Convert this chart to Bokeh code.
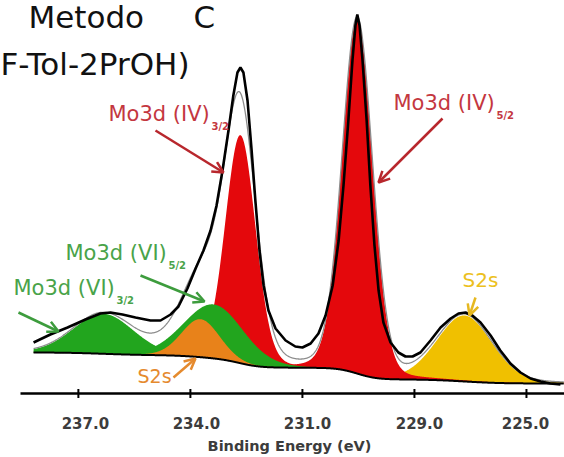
import numpy as np
from bokeh.plotting import figure
from bokeh.models import Range1d, Label, Arrow, OpenHead
from bokeh.embed import file_html
from bokeh.resources import INLINE

# ---------------- data ----------------
# measured spectrum (thick black line): binding energy (eV) and intensity (a.u.)
spec_energy = [238.20, 237.75, 237.29, 236.81, 236.41, 236.14, 235.82, 235.47, 235.07, 234.80,
               234.53, 234.32, 234.08, 233.86, 233.65, 233.46, 233.30, 233.14, 232.98, 232.85,
               232.74, 232.66, 232.58, 232.47, 232.36, 232.26, 232.15, 232.04, 231.91, 231.72,
               231.45, 231.19, 231.00, 230.78, 230.57, 230.38, 230.19, 230.03, 229.90, 229.77,
               229.66, 229.58, 229.53, 229.47, 229.39, 229.28, 229.18, 229.07, 228.96, 228.83,
               228.64, 228.43, 228.24, 228.05, 227.84, 227.57, 227.30, 227.03, 226.82, 226.63,
               226.45, 226.23, 225.96, 225.70, 225.43, 225.16, 224.89, 224.62, 224.36, 224.09]
spec_intensity = [51, 59, 66, 74, 80, 81, 79, 76, 73, 73,
                  79, 87, 105, 125, 143, 163, 188, 223, 263, 298,
                  321, 326, 321, 293, 243, 193, 143, 108, 83, 65,
                  53, 47, 46, 50, 60, 78, 108, 153, 208, 273,
                  333, 368, 379, 368, 333, 273, 208, 148, 103, 71,
                  51, 41, 37, 37, 41, 53, 66, 75, 80, 81,
                  78, 71, 58, 43, 30, 21, 15, 12, 10, 9]

# fitted components
peak_names = ["Mo3d (IV)5/2", "Mo3d (IV)3/2", "Mo3d (VI)5/2", "Mo3d (VI)3/2", "S2s (a)", "S2s (b)"]
peak_centers = [229.53, 232.66, 233.38, 236.33, 233.73, 226.66]
peak_heights = [355, 228, 54, 40, 38, 66]
peak_fwhm = [0.96, 0.96, 1.9, 1.9, 1.2, 1.75]
peak_lorentz = [0.12, 0.12, 0.1, 0.1, 0.1, 0.15]
peak_colors = ["#e4080c", "#e4080c", "#22a51e", "#22a51e", "#e8821a", "#f0c000"]
bg_high_be = 41   # background level at the high binding-energy end
bg_low_be = 10    # background level at the low binding-energy end

tick_values = [237, 234, 231, 228, 225]
tick_labels = ["237.0", "234.0", "231.0", "229.0", "225.0"]

# ---------------- model curves ----------------
E = np.linspace(238.2, 224.0, 1421)


def pvoigt(x, c, h, w, eta):
    d = (x - c) / w
    return h * (eta / (1 + 4 * d * d) + (1 - eta) * np.exp(-4 * np.log(2) * d * d))


comps = [pvoigt(E, c, h, w, eta) for c, h, w, eta in
         zip(peak_centers, peak_heights, peak_fwhm, peak_lorentz)]
total = np.sum(comps, axis=0)
# Shirley-type background
ea = E[::-1]
ta = total[::-1]
cum = np.concatenate([[0], np.cumsum(0.5 * (ta[1:] + ta[:-1]) * np.diff(ea))])
bg = (bg_low_be + (bg_high_be - bg_low_be) * cum / cum[-1])[::-1]
fit = bg + total


# pixel -> data helpers for annotation placement
def ex(px):
    return 238.55 - (px - 20) / 37.34


def iy(py):
    return 393 - py


# ---------------- figure ----------------
p = figure(width=564, height=457, output_backend="svg", toolbar_location=None,
           x_range=Range1d(ex(0), ex(564)), y_range=Range1d(iy(457), iy(0)),
           x_axis_location=None, y_axis_location=None,
           min_border_left=0, min_border_right=0, min_border_top=0, min_border_bottom=0)
p.grid.visible = False
p.outline_line_color = None
p.background_fill_color = "white"
p.border_fill_color = "white"

order = [5, 0, 1, 3, 2, 4]
for i in order:
    p.varea(x=E, y1=bg, y2=bg + comps[i], fill_color=peak_colors[i])

p.line(E, fit, line_color="#8c8c8c", line_width=1.3)
p.line(E, bg, line_color="black", line_width=2)
p.line(spec_energy, spec_intensity, line_color="black", line_width=2.6)

# x axis: baseline, ticks crossing the line, tick labels, title
p.line(x=[ex(20), ex(564)], y=[0, 0], line_color="black", line_width=2.6)
p.segment(x0=tick_values, y0=[-4.5] * len(tick_values), x1=tick_values,
          y1=[4.5] * len(tick_values), line_color="black", line_width=2)

BASE_SHIFT = 0.42  # renderer places the alphabetic baseline ~0.42 em low


def lbl(text, px, py, size, color, style="normal", align="left", x=None, dx=0):
    p.add_layout(Label(x=ex(px) if x is None else x, y=iy(py - BASE_SHIFT * size),
                       x_offset=dx, text=text, text_font="DejaVu Sans",
                       text_font_size=f"{size}px", text_color=color, text_font_style=style,
                       text_align=align, text_baseline="alphabetic"))


label_dx = [7, 6, 5, 5, -1]
for tv, tl, dx in zip(tick_values, tick_labels, label_dx):
    lbl(tl, 0, 429, 15, "#3c3c3c", "bold", "center", x=tv, dx=dx)
lbl("Binding Energy (eV)", 289, 452, 14.5, "#3c3c3c", "bold", "center")


def arrow(x0, y0, x1, y1, color):
    p.add_layout(Arrow(x_start=ex(x0), y_start=iy(y0), x_end=ex(x1), y_end=iy(y1),
                       line_color=color, line_width=2.5,
                       end=OpenHead(size=11, line_color=color, line_width=2.5)))


# titles
lbl("Metodo", 28, 30, 31, "#111111")
lbl("C", 193, 30, 31, "#111111")
lbl("F-Tol-2PrOH)", 0, 77, 31, "#111111")

red_t = "#c4373f"
green_t = "#49a349"
lbl("Mo3d (IV)", 108, 122, 21, red_t)
lbl("3/2", 211, 130, 10, red_t, "bold")
lbl("Mo3d (IV)", 393, 111, 21, red_t)
lbl("5/2", 496, 119, 10, red_t, "bold")
lbl("Mo3d (VI)", 65, 261, 21, green_t)
lbl("5/2", 168, 269, 10, green_t, "bold")
lbl("Mo3d (VI)", 13, 296, 21, green_t)
lbl("3/2", 116, 304, 10, green_t, "bold")
lbl("S2s", 137, 383, 19, "#e58a2e")
lbl("S2s", 462, 288, 20, "#ecc020")

arrow(155, 130, 223, 172, "#b8272d")
arrow(442, 118, 378, 182, "#b8272d")
arrow(140, 275, 204, 301, "#3d9c3d")
arrow(18, 312, 58, 331, "#3d9c3d")
arrow(173, 377, 195, 358, "#e58a2e")
arrow(475, 297, 469, 315, "#e6b820")

open("out.html", "w").write(file_html(p, INLINE))
